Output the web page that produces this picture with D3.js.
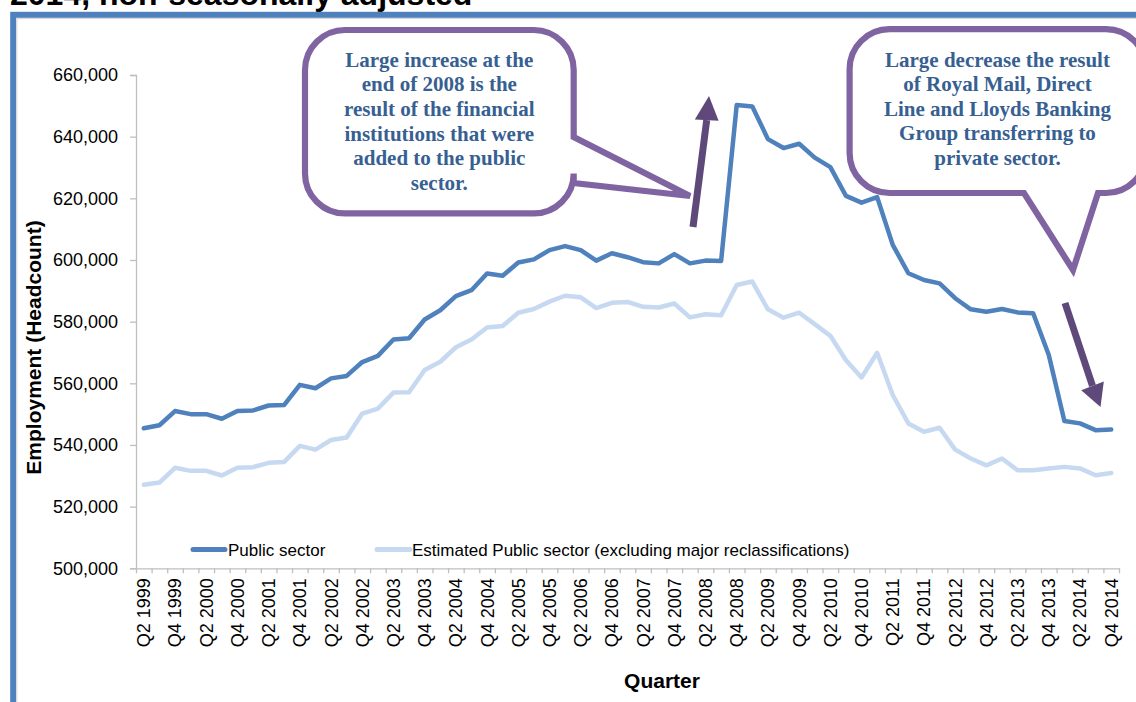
<!DOCTYPE html>
<html>
<head>
<meta charset="utf-8">
<script src="https://cdn.jsdelivr.net/npm/d3@7"></script>
<style>
  body { margin: 0; background: #ffffff; }
  svg { display: block; }
</style>
</head>
<body>
<svg id="chart" width="1136" height="702"></svg>
<script>
// Quarterly public sector employment (headcount), Q2 1999 – Q4 2014
const quarters = [
  "Q2 1999","Q3 1999","Q4 1999",
  "Q1 2000","Q2 2000","Q3 2000","Q4 2000",
  "Q1 2001","Q2 2001","Q3 2001","Q4 2001",
  "Q1 2002","Q2 2002","Q3 2002","Q4 2002",
  "Q1 2003","Q2 2003","Q3 2003","Q4 2003",
  "Q1 2004","Q2 2004","Q3 2004","Q4 2004",
  "Q1 2005","Q2 2005","Q3 2005","Q4 2005",
  "Q1 2006","Q2 2006","Q3 2006","Q4 2006",
  "Q1 2007","Q2 2007","Q3 2007","Q4 2007",
  "Q1 2008","Q2 2008","Q3 2008","Q4 2008",
  "Q1 2009","Q2 2009","Q3 2009","Q4 2009",
  "Q1 2010","Q2 2010","Q3 2010","Q4 2010",
  "Q1 2011","Q2 2011","Q3 2011","Q4 2011",
  "Q1 2012","Q2 2012","Q3 2012","Q4 2012",
  "Q1 2013","Q2 2013","Q3 2013","Q4 2013",
  "Q1 2014","Q2 2014","Q3 2014","Q4 2014"
];

const publicSector = [
  545400, 546400, 551000,
  550000, 550000, 548500, 551000,
  551200, 552800, 553000, 559500,
  558400, 561600, 562400, 566900,
  568900, 574200, 574600, 580700,
  583700, 588300, 590200, 595600,
  594900, 599200, 600200, 603200,
  604500, 603200, 599800, 602200,
  600900, 599300, 598900, 601900,
  598900, 599800, 599700, 650300,
  649800, 639200, 636300, 637700,
  633200, 630100, 620800, 618600,
  620400, 604900, 595700, 593500,
  592400, 587600, 584000, 583200,
  584100, 583000, 582700, 569200,
  547800, 547000, 544800, 545000
];

const estimatedPublic = [
  527100, 527800, 532600,
  531600, 531600, 530100, 532600,
  532800, 534200, 534500, 539700,
  538500, 541600, 542400, 550200,
  551800, 557000, 557100, 564300,
  567000, 571700, 574200, 578100,
  578600, 582900, 584100, 586500,
  588400, 587900, 584400, 586100,
  586400, 584800, 584600, 585900,
  581400, 582400, 582100, 591900,
  593000, 584000, 581300, 582900,
  579200, 575400, 567500, 561900,
  569900, 556200, 547000, 544300,
  545600, 538500, 535600, 533400,
  535600, 531800, 531800, 532400,
  532900, 532400, 530200, 530900
];

const yTicks = [500000, 520000, 540000, 560000, 580000, 600000, 620000, 640000, 660000];
// Every second quarter carries a label on the category axis
const xTickLabels = quarters.filter(q => q.startsWith("Q2") || q.startsWith("Q4"));

const seriesNames = ["Public sector", "Estimated Public sector (excluding major reclassifications)"];
const seriesColors = ["#4f81bd", "#c6d9f1"];

const increaseNote = ["Large increase at the", "end of 2008 is the", "result of the financial",
                      "institutions that were", "added to the public", "sector."];
const decreaseNote = ["Large decrease the result", "of Royal Mail, Direct", "Line and Lloyds Banking",
                      "Group transferring to", "private sector."];
const titleText = "2014, non-seasonally adjusted";

// ---------------------------------------------------------------------
const svg = d3.select("#chart");
const sans = "'Liberation Sans', Arial, sans-serif";
const serif = "'Liberation Serif', 'Times New Roman', serif";
const axisGrey = "#bfbfbf";

const plot = { left: 136, right: 1119, top: 75, bottom: 568.3 };

// Report title (only its lower edge sits inside the frame) and frame border
svg.append("text")
  .attr("x", 10).attr("y", 4.6)
  .attr("font-family", sans).attr("font-weight", "bold").attr("font-size", 32)
  .attr("fill", "#000").text(titleText);

svg.append("rect")
  .attr("x", 13.2).attr("y", 14.8).attr("width", 1200).attr("height", 800)
  .attr("fill", "none").attr("stroke", "#4f81bd").attr("stroke-width", 6);
svg.append("rect")
  .attr("x", 16.8).attr("y", 18.6).attr("width", 1200).attr("height", 800)
  .attr("fill", "none").attr("stroke", "#d9d9d9").attr("stroke-width", 1.2);

// Scales
const x = d3.scaleBand().domain(quarters).range([plot.left, plot.right]).padding(0);
const xEdge = d3.scaleLinear().domain([0, quarters.length]).range([plot.left, plot.right]);
const y = d3.scaleLinear().domain([500000, 660000]).range([plot.bottom, plot.top]);
const cx = q => x(q) + x.bandwidth() / 2;

// Y axis
const yAxis = svg.append("g")
  .attr("transform", `translate(${plot.left},0)`)
  .call(d3.axisLeft(y).tickValues(yTicks).tickFormat(d3.format(",")).tickSize(6).tickPadding(12));
yAxis.select(".domain").attr("stroke", axisGrey).attr("stroke-width", 1.3);
yAxis.selectAll(".tick line").attr("stroke", axisGrey).attr("stroke-width", 1.3);
yAxis.selectAll("text")
  .attr("font-family", sans).attr("font-size", 18).attr("fill", "#000");

// X axis: tick marks on every band edge
const xTicks = svg.append("g")
  .attr("transform", `translate(0,${plot.bottom})`)
  .call(d3.axisBottom(xEdge).tickValues(d3.range(quarters.length + 1)).tickFormat("").tickSize(5).tickSizeOuter(0));
xTicks.select(".domain").attr("stroke", axisGrey).attr("stroke-width", 1.3);
xTicks.selectAll(".tick line").attr("stroke", axisGrey).attr("stroke-width", 1.3);

// X axis: rotated labels on every second quarter
const xLabels = svg.append("g")
  .attr("transform", `translate(0,${plot.bottom})`)
  .call(d3.axisBottom(x).tickValues(xTickLabels).tickSize(0));
xLabels.select(".domain").remove();
xLabels.selectAll("text")
  .attr("font-family", sans).attr("font-size", 18).attr("fill", "#000")
  .attr("transform", "rotate(-90)")
  .attr("text-anchor", "end")
  .attr("x", -10).attr("y", 0).attr("dy", "0.36em");

// Axis titles
svg.append("text")
  .attr("transform", `translate(41,${(220 + 475) / 2}) rotate(-90)`)
  .attr("text-anchor", "middle")
  .attr("font-family", sans).attr("font-weight", "bold").attr("font-size", 21)
  .text("Employment (Headcount)");
svg.append("text")
  .attr("x", 662).attr("y", 688)
  .attr("text-anchor", "middle")
  .attr("font-family", sans).attr("font-weight", "bold").attr("font-size", 21)
  .text("Quarter");

// Series lines
const line = d3.line().x(d => cx(d.q)).y(d => y(d.v));
const series = [publicSector, estimatedPublic].map(vals => quarters.map((q, i) => ({ q, v: vals[i] })));
series.forEach((s, i) => {
  svg.append("path")
    .datum(s)
    .attr("d", line)
    .attr("fill", "none")
    .attr("stroke", seriesColors[i])
    .attr("stroke-width", 4.5)
    .attr("stroke-linejoin", "round")
    .attr("stroke-linecap", "round");
});

// Legend
const legendItems = [
  { x0: 193, x1: 225, tx: 228 },
  { x0: 377, x1: 410, tx: 412 }
];
legendItems.forEach((item, i) => {
  svg.append("line")
    .attr("x1", item.x0).attr("x2", item.x1).attr("y1", 549.5).attr("y2", 549.5)
    .attr("stroke", seriesColors[i]).attr("stroke-width", 5).attr("stroke-linecap", "round");
  svg.append("text")
    .attr("x", item.tx).attr("y", 555.5)
    .attr("font-family", sans).attr("font-size", 17).attr("fill", "#000")
    .text(seriesNames[i]);
});

// Callout shapes
const calloutStroke = "#8064a2";
function roundedCalloutRight(x0, y0, x1, y1, r, tailTop, tailBottom, tip) {
  return `M${x0 + r},${y0} H${x1 - r} A${r},${r} 0 0 1 ${x1},${y0 + r}
    V${tailTop} L${tip[0]},${tip[1]} L${x1},${tailBottom}
    V${y1 - r} A${r},${r} 0 0 1 ${x1 - r},${y1} H${x0 + r}
    A${r},${r} 0 0 1 ${x0},${y1 - r} V${y0 + r} A${r},${r} 0 0 1 ${x0 + r},${y0} Z`;
}
function roundedCalloutBottom(x0, y0, x1, y1, r, tailRight, tailLeft, tip) {
  return `M${x0 + r},${y0} H${x1 - r} A${r},${r} 0 0 1 ${x1},${y0 + r}
    V${y1 - r} A${r},${r} 0 0 1 ${x1 - r},${y1}
    H${tailRight} L${tip[0]},${tip[1]} L${tailLeft},${y1}
    H${x0 + r} A${r},${r} 0 0 1 ${x0},${y1 - r} V${y0 + r} A${r},${r} 0 0 1 ${x0 + r},${y0} Z`;
}

svg.append("path")
  .attr("d", roundedCalloutRight(305, 30, 573.7, 213.4, 40, 137, 183, [690, 196]))
  .attr("fill", "#fff").attr("stroke", calloutStroke).attr("stroke-width", 6.2)
  .attr("stroke-linejoin", "miter");
svg.append("path")
  .attr("d", roundedCalloutBottom(849.6, 29.2, 1146, 193, 40, 1098, 1024, [1073, 270]))
  .attr("fill", "#fff").attr("stroke", calloutStroke).attr("stroke-width", 6.2)
  .attr("stroke-linejoin", "miter");

function noteText(lines, cxPos, firstBaseline, step) {
  svg.append("g").selectAll("text")
    .data(lines).join("text")
    .attr("x", cxPos)
    .attr("y", (d, i) => firstBaseline + i * step)
    .attr("text-anchor", "middle")
    .attr("font-family", serif).attr("font-weight", "bold").attr("font-size", 21)
    .attr("fill", "#376092")
    .text(d => d);
}
noteText(increaseNote, 439.3, 66.5, 24.7);
noteText(decreaseNote, 997.5, 66.5, 24.5);

// Arrows
const arrowColor = "#5f497a";
function arrow(from, tip, headBase1, headBase2) {
  const bx = (headBase1[0] + headBase2[0]) / 2, by = (headBase1[1] + headBase2[1]) / 2;
  svg.append("line")
    .attr("x1", from[0]).attr("y1", from[1]).attr("x2", bx).attr("y2", by)
    .attr("stroke", arrowColor).attr("stroke-width", 7);
  svg.append("path")
    .attr("d", `M${tip[0]},${tip[1]} L${headBase1[0]},${headBase1[1]} L${headBase2[0]},${headBase2[1]} Z`)
    .attr("fill", arrowColor);
}
arrow([693, 227], [709, 96], [694.8, 119.5], [718.6, 120.8]);
arrow([1065, 303], [1100.5, 407], [1081.2, 390.2], [1103.8, 381.6]);
</script>
</body>
</html>
